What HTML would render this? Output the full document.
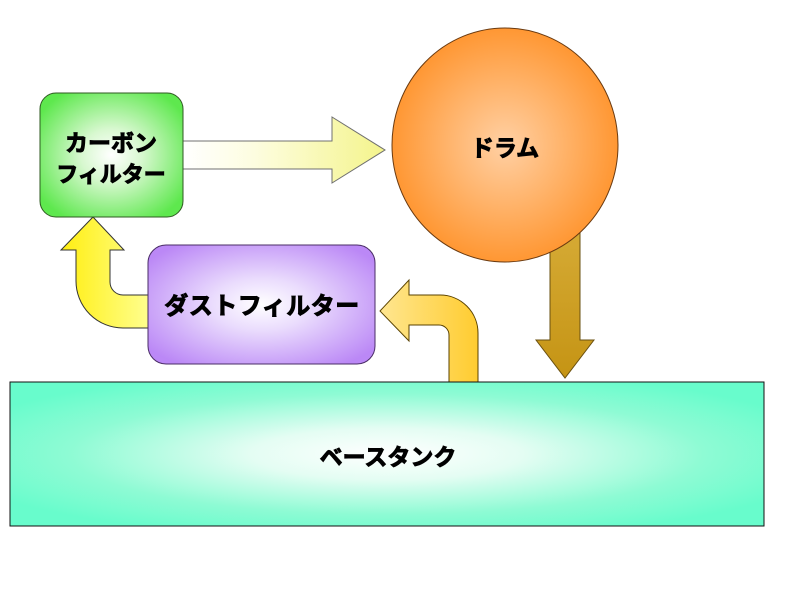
<!DOCTYPE html>
<html>
<head>
<meta charset="utf-8">
<style>
  html,body{margin:0;padding:0;background:#fff;}
  svg{display:block;}
  text{font-family:"Liberation Sans","Noto Sans CJK JP",sans-serif;font-weight:bold;fill:#000;stroke:#000;stroke-width:0.9;}
</style>
</head>
<body>
<svg width="788" height="591" viewBox="0 0 788 591" xmlns="http://www.w3.org/2000/svg">
  <defs>
    <radialGradient id="gGreen" cx="50%" cy="50%" r="60%">
      <stop offset="0" stop-color="#ffffff"/>
      <stop offset="0.35" stop-color="#d8f8d0"/>
      <stop offset="1" stop-color="#5ee84e"/>
    </radialGradient>
    <radialGradient id="gPurple" cx="50%" cy="50%" r="62%">
      <stop offset="0" stop-color="#ffffff"/>
      <stop offset="0.35" stop-color="#eadcfd"/>
      <stop offset="1" stop-color="#bb88f6"/>
    </radialGradient>
    <radialGradient id="gOrange" cx="50%" cy="50%" r="50%">
      <stop offset="0" stop-color="#ffd0a4"/>
      <stop offset="0.5" stop-color="#ffb46c"/>
      <stop offset="1" stop-color="#ff9733"/>
    </radialGradient>
    <radialGradient id="gTank" cx="50%" cy="50%" r="60%">
      <stop offset="0" stop-color="#ffffff"/>
      <stop offset="0.3" stop-color="#e4fdf3"/>
      <stop offset="0.7" stop-color="#8efbd4"/>
      <stop offset="1" stop-color="#68fccc"/>
    </radialGradient>
    <linearGradient id="gRight" x1="0" y1="0" x2="1" y2="0">
      <stop offset="0" stop-color="#ffffff"/>
      <stop offset="0.35" stop-color="#fdfde0"/>
      <stop offset="1" stop-color="#f4f48c"/>
    </linearGradient>
    <linearGradient id="gYellow" x1="0" y1="0" x2="1" y2="0">
      <stop offset="0" stop-color="#ffee10"/>
      <stop offset="1" stop-color="#ffff90"/>
    </linearGradient>
    <linearGradient id="gGoldUp" x1="0" y1="0" x2="1" y2="0">
      <stop offset="0" stop-color="#ffe690"/>
      <stop offset="1" stop-color="#ffcc30"/>
    </linearGradient>
    <linearGradient id="gDown" x1="0" y1="0" x2="0" y2="1">
      <stop offset="0" stop-color="#d6ab36"/>
      <stop offset="1" stop-color="#c59414"/>
    </linearGradient>
  </defs>

  <!-- right arrow carbon -> drum -->
  <polygon points="183,141 332,141 332,117 385,150 332,183 332,169 183,169"
           fill="url(#gRight)" stroke="#707070" stroke-width="1"/>

  <!-- down arrow drum -> tank -->
  <polygon points="550,225 580,225 580,340 594,340 565,378 536,340 550,340"
           fill="url(#gDown)" stroke="#6a5010" stroke-width="1"/>

  <!-- drum -->
  <ellipse cx="505" cy="145" rx="113" ry="117" fill="url(#gOrange)" stroke="#6a3a10" stroke-width="1"/>
  <text x="505" y="156" font-size="23" text-anchor="middle">ドラム</text>

  <!-- yellow up arrow dust -> carbon -->
  <path d="M150,295 L123,295 A13,13 0 0 1 110,282 L110,250 L124,250 L93,217 L61,250 L76,250 L76,281 A47,47 0 0 0 123,328 L150,328 Z"
        fill="url(#gYellow)" stroke="#333" stroke-width="1"/>

  <!-- carbon filter -->
  <rect x="40" y="93" width="143" height="124" rx="16" ry="16" fill="url(#gGreen)" stroke="#2f5a22" stroke-width="1"/>
  <text x="111" y="151" font-size="23" text-anchor="middle">カーボン</text>
  <text x="111" y="182" font-size="22" text-anchor="middle">フィルター</text>

  <!-- gold up arrow tank -> dust -->
  <path d="M449,383 L449,335 A10,10 0 0 0 439,325 L409,325 L409,341 L380,311 L409,280 L409,295 L440,295 A38,38 0 0 1 478,333 L478,383 Z"
        fill="url(#gGoldUp)" stroke="#5a4200" stroke-width="1"/>

  <!-- dust filter -->
  <rect x="148" y="245" width="227" height="119" rx="18" ry="18" fill="url(#gPurple)" stroke="#4a2d66" stroke-width="1"/>
  <text x="262" y="314" font-size="24" text-anchor="middle" letter-spacing="0.5">ダストフィルター</text>

  <!-- base tank -->
  <rect x="10" y="382" width="754" height="144" fill="url(#gTank)" stroke="#111" stroke-width="1"/>
  <text x="388" y="465" font-size="23" text-anchor="middle">ベースタンク</text>
</svg>
</body>
</html>
